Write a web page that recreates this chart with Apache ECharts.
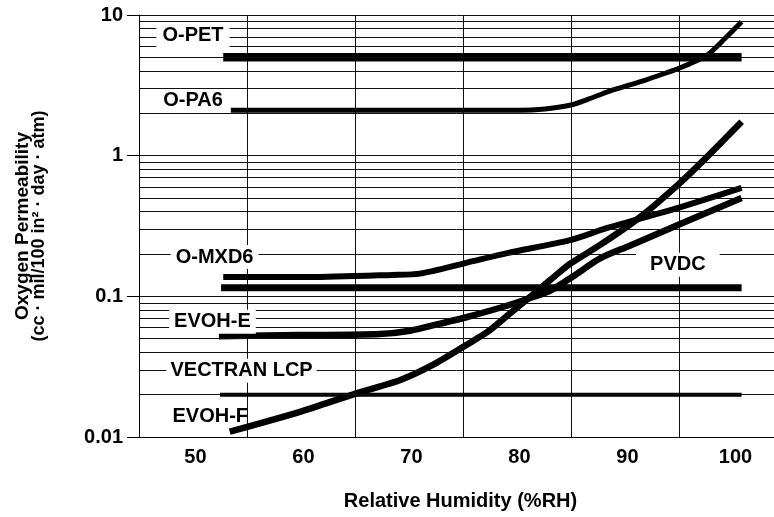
<!DOCTYPE html>
<html>
<head>
<meta charset="utf-8">
<script src="https://cdn.jsdelivr.net/npm/echarts@6/dist/echarts.min.js"></script>
<style>
  html, body { margin: 0; padding: 0; background: #fff; }
  #chart { width: 774px; height: 517px; }
</style>
</head>
<body>
<div id="chart"></div>
<script>
// Oxygen permeability (cc·mil/100 in²·day·atm) versus relative humidity (%RH)
const oPetRH = [52.8, 100.8];
const oPetPerm = [5.0, 5.0];

const oPa6RH = [52.8, 80.3, 82.6, 85.0, 86.9, 88.9, 91.9, 95.0, 97.6, 99.3, 100.8];
const oPa6Perm = [2.1, 2.1, 2.15, 2.29, 2.57, 2.93, 3.45, 4.18, 5.19, 6.86, 8.96];

const oMxd6RH = [52.8, 60.8, 68.5, 71.0, 75.3, 79.1, 84.9, 88.3, 94.9, 100.8];
const oMxd6Perm = [0.137, 0.137, 0.142, 0.145, 0.173, 0.203, 0.251, 0.305, 0.425, 0.59];

const pvdcRH = [52.6, 100.8];
const pvdcPerm = [0.115, 0.115];

const evohERH = [52.4, 59.9, 67.3, 70.1, 72.9, 75.3, 78.9, 81.5, 83.1, 85.4, 87.7, 90.5, 94.9, 100.8];
const evohEPerm = [0.052, 0.053, 0.054, 0.057, 0.064, 0.071, 0.085, 0.099, 0.110, 0.142, 0.186, 0.230, 0.321, 0.50];

const vectranRH = [52.5, 100.8];
const vectranPerm = [0.02, 0.02];

const evohFRH = [53.4, 59.9, 65.2, 69.2, 72.2, 75.0, 77.5, 79.4, 81.2, 83.1, 84.9, 87.7, 91.4, 94.9, 97.6, 100.8];
const evohFPerm = [0.0109, 0.0151, 0.0205, 0.0254, 0.0325, 0.0436, 0.0576, 0.0761, 0.0989, 0.131, 0.170, 0.232, 0.366, 0.62, 0.98, 1.74];

// axis ticks
const xTickLabels = [50, 60, 70, 80, 90, 100];
const yTickLabels = ['0.01', '0.1', '1', '10'];
// minor log-paper rulings between the decades
const minorGridValues = [
  0.02, 0.03, 0.04, 0.05, 0.06, 0.07, 0.08, 0.09,
  0.2, 0.3, 0.4, 0.5, 0.6, 0.7, 0.8, 0.9,
  2, 3, 4, 5, 6, 7, 8, 9
];

const FONT = "'Liberation Sans', Arial, Helvetica, sans-serif";
const INK = '#000';
const RULE = '#111';

function pairs(xs, ys) {
  return xs.map((x, i) => [x, ys[i]]);
}

function curve(name, xs, ys, width, smooth) {
  return {
    name: name,
    type: 'line',
    z: 3,
    data: pairs(xs, ys),
    showSymbol: false,
    smooth: smooth,
    silent: true,
    lineStyle: { color: INK, width: width, cap: 'butt', join: 'round' },
    emphasis: { disabled: true }
  };
}

function tag(name, coord, opts) {
  opts = opts || {};
  return {
    name: name,
    coord: coord,
    label: {
      show: true,
      formatter: '{b}',
      position: 'inside',
      color: INK,
      fontFamily: FONT,
      fontWeight: 'bold',
      fontSize: 20,
      backgroundColor: opts.bg === false ? 'transparent' : '#fff',
      padding: opts.padding || [3, 6, 3, 6]
    }
  };
}

const chart = echarts.init(document.getElementById('chart'), null, { renderer: 'canvas' });

chart.setOption({
  animation: false,
  backgroundColor: '#fff',
  grid: { left: 139, top: 15, right: 0, bottom: 80, containLabel: false, outerBoundsMode: 'none' },
  xAxis: {
    type: 'value',
    min: 45,
    max: 103.8,
    interval: 10,
    name: 'Relative Humidity (%RH)',
    nameLocation: 'middle',
    nameGap: 54,
    nameTextStyle: { color: INK, fontFamily: FONT, fontWeight: 'bold', fontSize: 20, padding: [0, 0, 0, 8] },
    axisLine: { show: true, lineStyle: { color: INK, width: 1 } },
    axisTick: { show: false },
    axisLabel: {
      customValues: xTickLabels,
      color: INK, fontFamily: FONT, fontWeight: 'bold', fontSize: 20, margin: 10,
      padding: [0, 0, 0, 5]
    },
    splitLine: { show: true, showMaxLine: false, lineStyle: { color: RULE, width: 1 } }
  },
  yAxis: {
    type: 'log',
    logBase: 10,
    min: 0.01,
    max: 10,
    name: '{a|Oxygen Permeability}\n{b|(cc · mil/100 in² · day · atm)}',
    nameLocation: 'middle',
    nameRotate: 90,
    nameGap: 91,
    nameTextStyle: {
      color: INK,
      rich: {
        a: { fontFamily: FONT, fontWeight: 'bold', fontSize: 19, lineHeight: 17, color: INK },
        b: { fontFamily: FONT, fontWeight: 'bold', fontSize: 18, lineHeight: 17, color: INK }
      }
    },
    axisLine: { show: true, lineStyle: { color: INK, width: 1 } },
    axisTick: { show: true, inside: false, length: 12, lineStyle: { color: INK, width: 1 } },
    axisLabel: {
      color: INK, fontFamily: FONT, fontWeight: 'bold', fontSize: 20, margin: 16,
      formatter: function (v) {
        const hit = yTickLabels.find(s => Math.abs(parseFloat(s) - v) / v < 1e-6);
        return hit || '';
      }
    },
    splitLine: { show: true, lineStyle: { color: RULE, width: 1 } },
    minorTick: { show: false },
    minorSplitLine: { show: false }
  },
  series: [
    {
      name: 'rulings',
      type: 'line',
      z: 1,
      data: [],
      silent: true,
      markLine: {
        silent: true,
        symbol: ['none', 'none'],
        animation: false,
        label: { show: false },
        emphasis: { disabled: true },
        lineStyle: { color: RULE, width: 1, type: 'solid' },
        data: minorGridValues.map(v => ({ yAxis: v }))
      }
    },
    {
      name: 'tags',
      type: 'line',
      z: 2,
      data: [],
      silent: true,
      markPoint: {
        silent: true,
        symbol: 'rect',
        symbolSize: 1,
        itemStyle: { color: 'transparent' },
        animation: false,
        data: [
          tag('O-PET', [50.0, 7.1]),
          tag('O-PA6', [50.0, 2.45], { padding: [2, 8, 2, 8] }),
          tag('O-MXD6', [52.0, 0.19], { padding: [2, 5, 2, 5] }),
          tag('EVOH-E', [51.8, 0.066], { padding: [2, 5, 2, 5] }),
          tag('VECTRAN LCP', [54.5, 0.0296], { padding: [2, 4, 2, 4] }),
          tag('EVOH-F', [51.6, 0.014], { bg: false }),
          tag('PVDC', [94.9, 0.168], { padding: [2, 14, 2, 14] })
        ]
      }
    },
    curve('O-PET', oPetRH, oPetPerm, 8.5, false),
    curve('O-PA6', oPa6RH, oPa6Perm, 5, 0.25),
    curve('O-MXD6', oMxd6RH, oMxd6Perm, 6, 0.25),
    curve('PVDC', pvdcRH, pvdcPerm, 7, false),
    curve('EVOH-E', evohERH, evohEPerm, 6.5, 0.3),
    curve('VECTRAN LCP', vectranRH, vectranPerm, 4, false),
    curve('EVOH-F', evohFRH, evohFPerm, 6.5, 0.25)
  ]
});
</script>
</body>
</html>
